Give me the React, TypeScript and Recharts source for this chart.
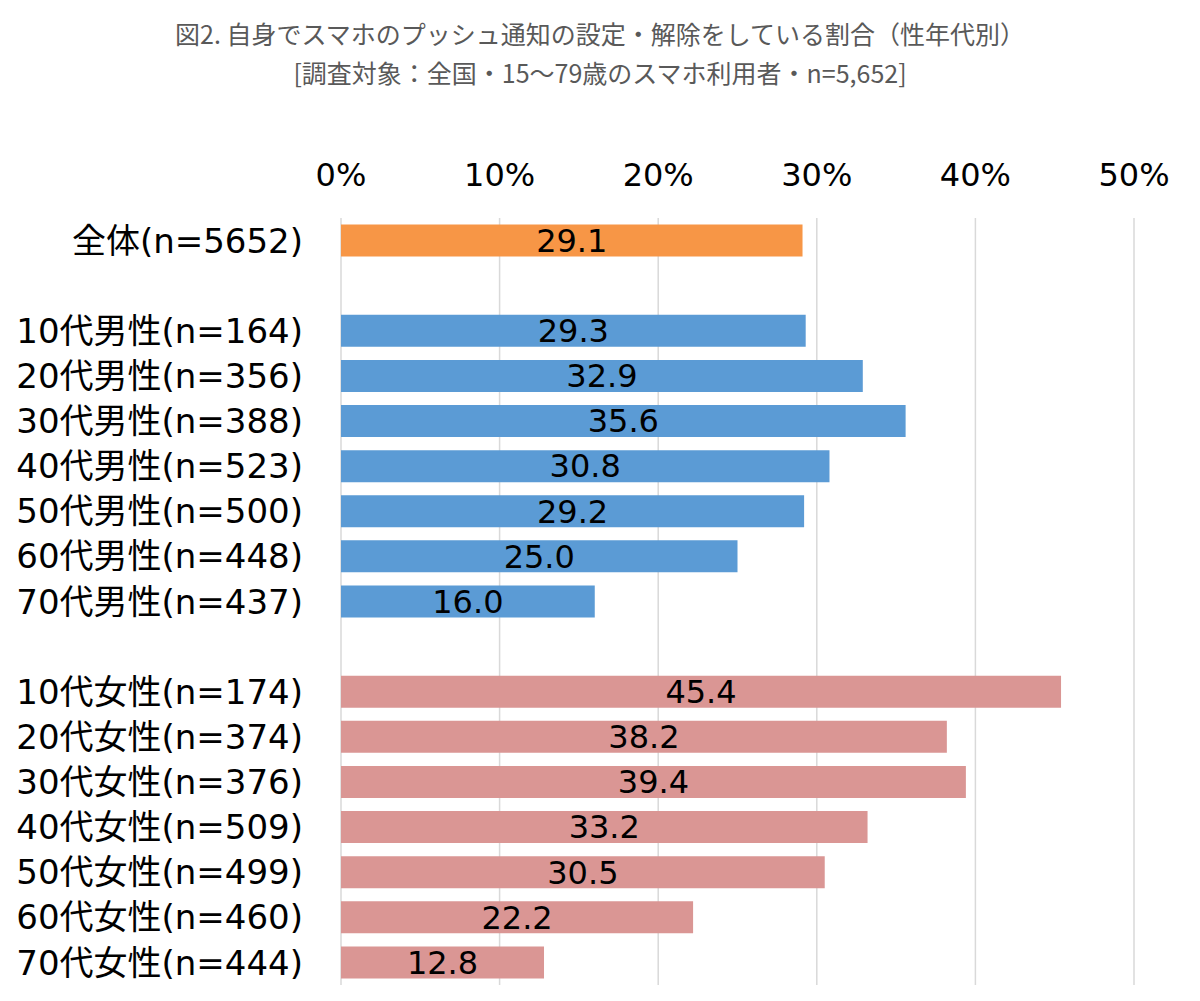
import React from 'react';
import { BarChart, Bar, XAxis, YAxis, CartesianGrid, Cell, LabelList } from 'recharts';

const categories = [
  '全体(n=5652)',
  ' ',
  '10代男性(n=164)',
  '20代男性(n=356)',
  '30代男性(n=388)',
  '40代男性(n=523)',
  '50代男性(n=500)',
  '60代男性(n=448)',
  '70代男性(n=437)',
  '  ',
  '10代女性(n=174)',
  '20代女性(n=374)',
  '30代女性(n=376)',
  '40代女性(n=509)',
  '50代女性(n=499)',
  '60代女性(n=460)',
  '70代女性(n=444)',
];

const values: (number | null)[] = [
  29.1, null, 29.3, 32.9, 35.6, 30.8, 29.2, 25.0, 16.0, null, 45.4, 38.2, 39.4, 33.2, 30.5, 22.2, 12.8,
];

const groups = [
  'all', '', 'male', 'male', 'male', 'male', 'male', 'male', 'male', '',
  'female', 'female', 'female', 'female', 'female', 'female', 'female',
];

const xTicks = [0, 10, 20, 30, 40, 50];

const groupColors: Record<string, string> = {
  all: '#F79646',
  male: '#5B9BD5',
  female: '#DA9694',
  '': 'transparent',
};

const titleLine1 = '図2. 自身でスマホのプッシュ通知の設定・解除をしている割合（性年代別）';
const titleLine2 = '[調査対象：全国・15～79歳のスマホ利用者・n=5,652]';

const data = categories.map((name, i) => ({ name, value: values[i], group: groups[i] }));

const FONT = "'DejaVu Sans', 'Noto Sans CJK JP', sans-serif";
const TITLE_FONT = "'Noto Sans CJK JP', sans-serif";
const XH = 60;

export default function App() {
  return (
    <div style={{ position: 'absolute', left: 0, top: 0, width: 1200, height: 1001, background: '#fff' }}>
      <div
        style={{
          position: 'absolute', left: 0, top: 15, width: 1200, textAlign: 'center',
          fontFamily: TITLE_FONT, fontSize: 25, lineHeight: '36px', color: '#595959',
        }}
      >
        {titleLine1}
      </div>
      <div
        style={{
          position: 'absolute', left: 0, top: 54, width: 1200, textAlign: 'center',
          fontFamily: TITLE_FONT, fontSize: 25, lineHeight: '36px', color: '#595959',
        }}
      >
        {titleLine2}
      </div>
      <BarChart
        width={1200}
        height={1001}
        layout="vertical"
        data={data}
        margin={{ top: 218 - XH, right: 66, bottom: 16, left: 0 }}
        barCategoryGap="14.5%"
        style={{ position: 'absolute', left: 0, top: 0 }}
      >
        <CartesianGrid horizontal={false} stroke="#D9D9D9" strokeWidth={1.5} />
        <XAxis
          type="number"
          orientation="top"
          domain={[0, 50]}
          ticks={xTicks}
          tickFormatter={(v: number) => `${v}%`}
          axisLine={false}
          tickLine={false}
          tickSize={0}
          tickMargin={32}
          height={XH}
          tick={{ fill: '#000', fontSize: 32, fontFamily: FONT }}
          interval={0}
        />
        <YAxis
          type="category"
          dataKey="name"
          width={341}
          axisLine={false}
          tickLine={false}
          tickSize={0}
          tickMargin={38}
          interval={0}
          tick={{ fill: '#000', fontSize: 34, fontFamily: FONT }}
        />
        <Bar dataKey="value" isAnimationActive={false}>
          {data.map((d, i) => (
            <Cell key={i} fill={groupColors[d.group]} />
          ))}
          <LabelList
            dataKey="value"
            position="center"
            formatter={(v: any) => (v == null ? '' : Number(v).toFixed(1))}
            style={{ fill: '#000', fontSize: 32, fontFamily: FONT }}
          />
        </Bar>
      </BarChart>
    </div>
  );
}
